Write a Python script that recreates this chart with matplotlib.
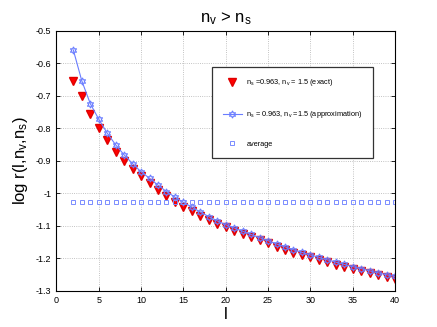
import numpy as np
import matplotlib
matplotlib.use('Agg')
import matplotlib.pyplot as plt
from matplotlib.ticker import FormatStrFormatter

plt.rcParams['font.family'] = ['Liberation Sans', 'DejaVu Sans']
plt.rcParams['mathtext.fontset'] = 'custom'
plt.rcParams['mathtext.rm'] = 'Liberation Sans'
plt.rcParams['mathtext.it'] = 'Liberation Sans'

l = np.arange(2, 41)

exact = [-0.654, -0.700, -0.756, -0.800, -0.836, -0.872, -0.900, -0.924, -0.947,
         -0.969, -0.990, -1.008, -1.026, -1.041, -1.054, -1.069, -1.082, -1.094, -1.105,
         -1.115, -1.125, -1.134, -1.144, -1.154, -1.164, -1.174, -1.183, -1.190, -1.197,
         -1.205, -1.212, -1.221, -1.226, -1.233, -1.239, -1.246, -1.252, -1.259, -1.264]

approx = [-0.559, -0.654, -0.724, -0.772, -0.815, -0.851, -0.882, -0.909, -0.934,
          -0.954, -0.975, -0.995, -1.012, -1.028, -1.043, -1.058, -1.072, -1.085, -1.097,
          -1.107, -1.117, -1.127, -1.137, -1.146, -1.156, -1.165, -1.174, -1.182, -1.190,
          -1.197, -1.205, -1.212, -1.219, -1.226, -1.232, -1.239, -1.245, -1.251, -1.256]

average = [-1.027] * len(l)

fig = plt.figure(figsize=(4.37, 3.27), dpi=100)
ax = fig.add_axes([0.129, 0.111, 0.775, 0.795])

ax.plot(l, exact, linestyle='none', marker='v', markersize=5.6,
        color='#ff0000', markeredgecolor='#e00000', label=r'n$_s$ =0.963, n$_v$ = 1.5 (exact)')
ax.plot(l, approx, color='#6a7dff', linewidth=0.8, marker=(6, 1, 0), markersize=5.2,
        markerfacecolor='none', markeredgecolor='#6a7dff', markeredgewidth=0.8,
        label=r'n$_s$ = 0.963, n$_v$ =1.5 (approximation)')
ax.plot(l, average, linestyle='none', marker='s', markersize=3.0,
        markerfacecolor='none', markeredgecolor='#7a8cff', markeredgewidth=0.7,
        label='average')

ax.set_xlim(0, 40)
ax.set_ylim(-1.3, -0.5)
ax.set_xticks(np.arange(0, 41, 5))
ax.set_yticks(np.arange(-1.3, -0.45, 0.1))
ax.yaxis.set_major_formatter(FormatStrFormatter('%g'))
ax.tick_params(direction='in', labelsize=6.5, length=3, width=0.6, top=True, right=True)
ax.grid(True, linestyle=':', color='#b0b0b0', linewidth=0.6)
for s in ax.spines.values():
    s.set_linewidth(0.8)

ax.set_title(r'n$_v$ > n$_s$', fontsize=12, pad=6)
ax.set_xlabel('l', fontsize=12, labelpad=2)
ax.set_ylabel(r'log r(l,n$_v$,n$_s$)', fontsize=12, labelpad=4)

leg = ax.legend(loc='upper left', bbox_to_anchor=(0.450, 0.874), fontsize=5.3,
                labelspacing=2.8, borderpad=1.4, handlelength=2.6, handletextpad=0.6,
                fancybox=False, framealpha=1, edgecolor='#333333')
leg.get_frame().set_linewidth(0.9)

fig.savefig('out.png', dpi=100)
